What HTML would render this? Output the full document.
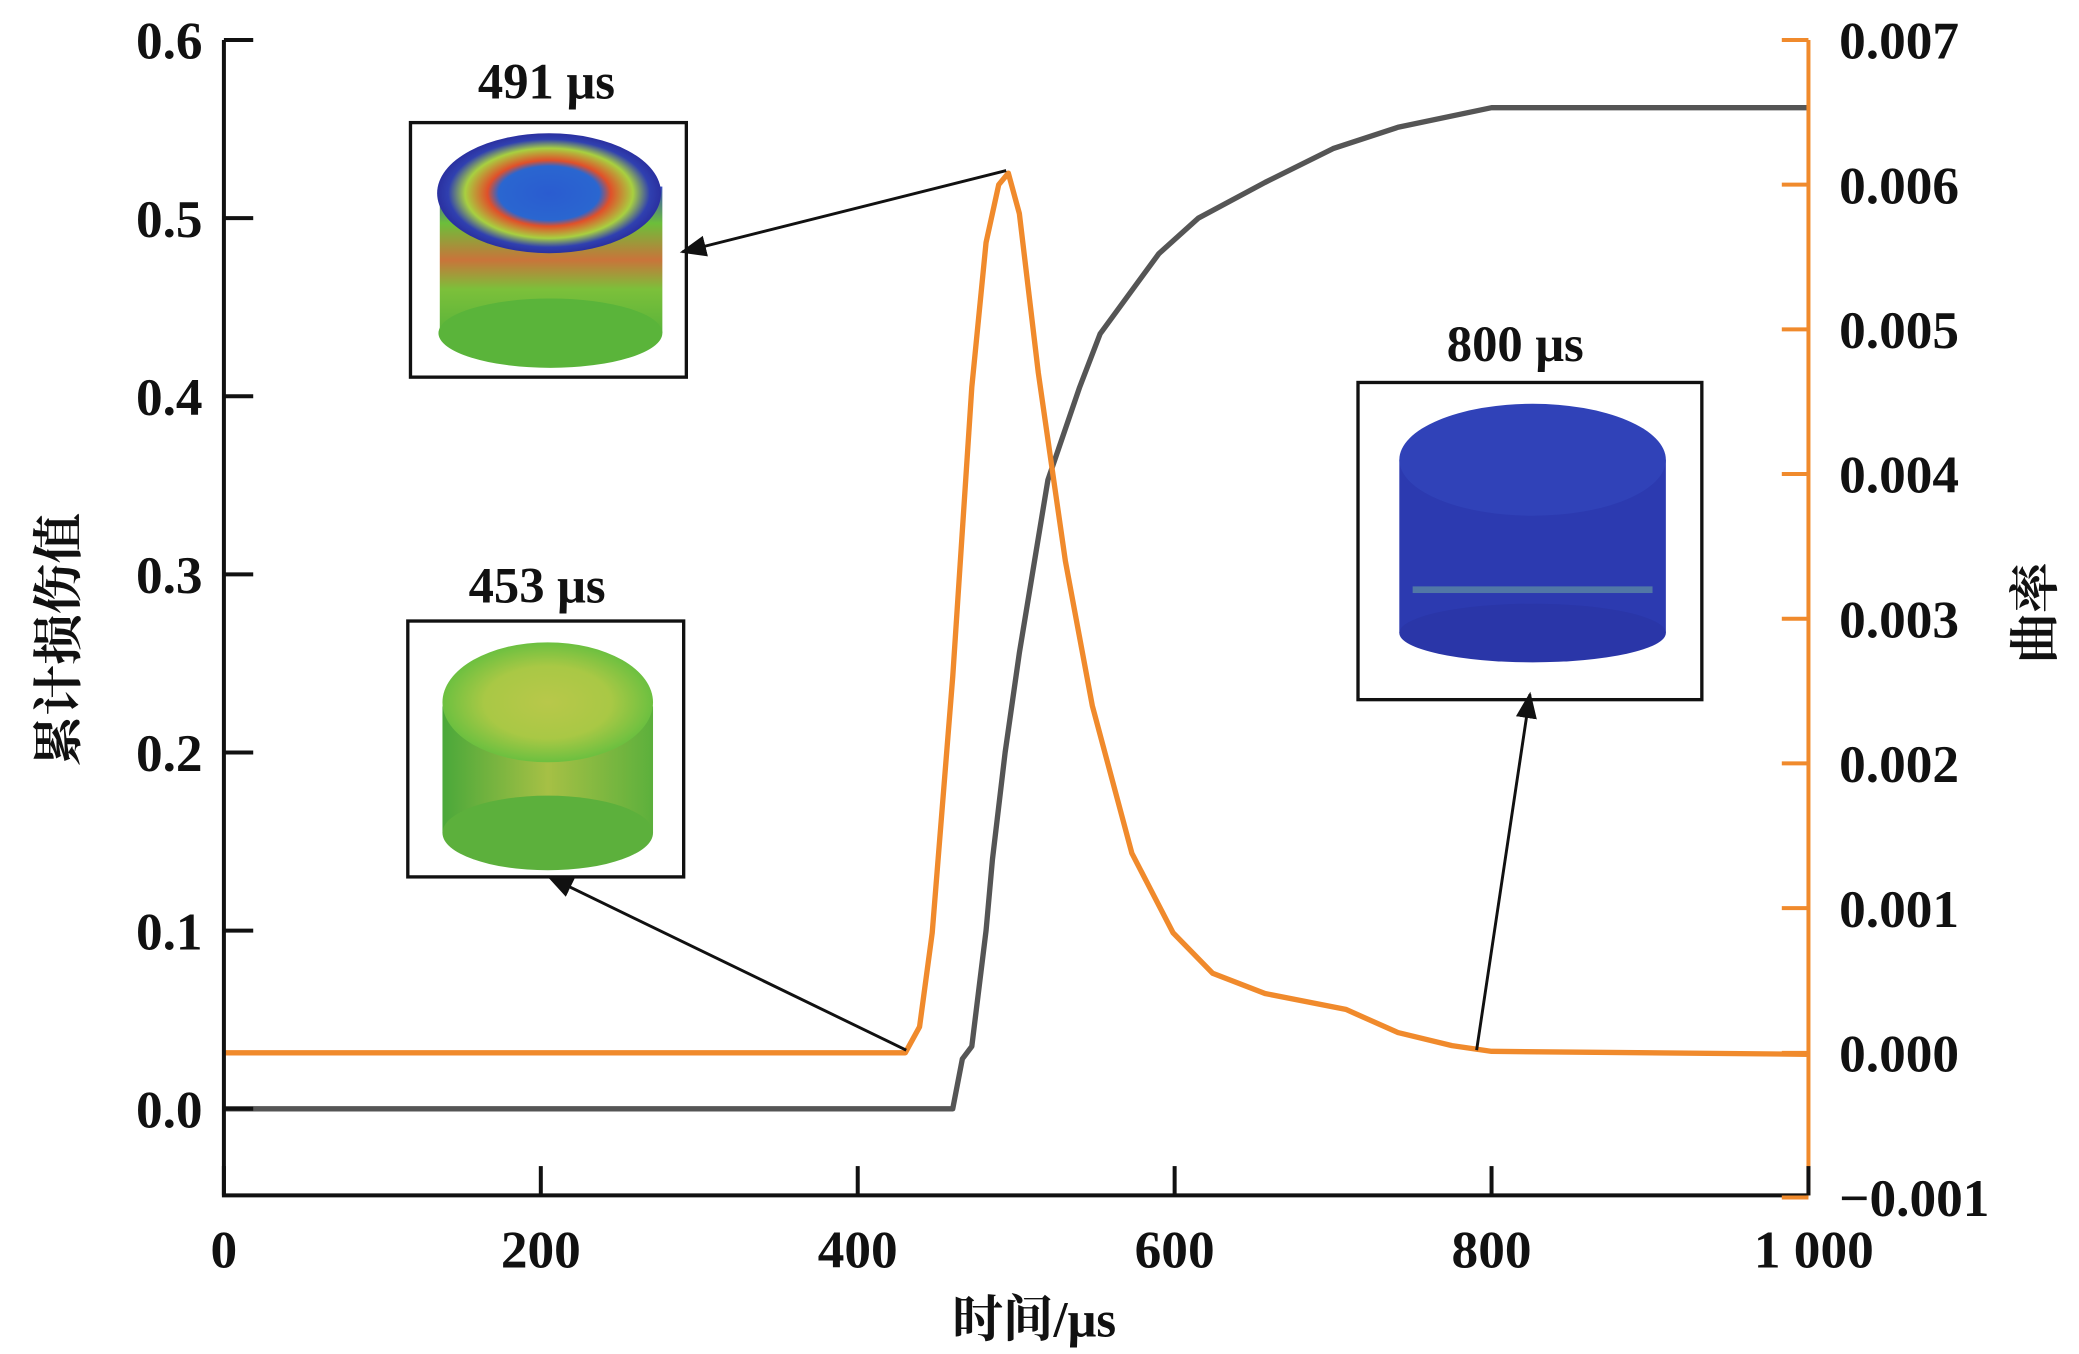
<!DOCTYPE html>
<html><head><meta charset="utf-8"><style>
html,body{margin:0;padding:0;background:#fff;}
svg{display:block;}
text{font-family:"Liberation Serif","Noto Serif CJK SC",serif;fill:#111;}
</style></head><body>
<svg id="chart" width="2079" height="1354" viewBox="0 0 1560 1016" xmlns="http://www.w3.org/2000/svg">
<defs>
<radialGradient id="g453top" cx="50%" cy="50%" r="50%"><stop offset="0" stop-color="#b8c84a"/><stop offset="0.6" stop-color="#a9c845"/><stop offset="1" stop-color="#6cc040"/></radialGradient>
<linearGradient id="g453side" x1="0" y1="0" x2="1" y2="0"><stop offset="0" stop-color="#4aa83a"/><stop offset="0.5" stop-color="#a6c045"/><stop offset="1" stop-color="#5cb03c"/></linearGradient>
<linearGradient id="g491side" x1="0" y1="0" x2="0" y2="1"><stop offset="0" stop-color="#3a4cc0"/><stop offset="0.25" stop-color="#6cbf3a"/><stop offset="0.5" stop-color="#c9743a"/><stop offset="0.7" stop-color="#7cc03a"/><stop offset="1" stop-color="#5ab43a"/></linearGradient>
<radialGradient id="g491top" cx="50%" cy="50%" r="50%"><stop offset="0" stop-color="#2a5cd0"/><stop offset="0.45" stop-color="#2a66d0"/><stop offset="0.55" stop-color="#e0502a"/><stop offset="0.75" stop-color="#a8d040"/><stop offset="0.9" stop-color="#3040b0"/><stop offset="1" stop-color="#2a30a0"/></radialGradient>
<marker id="ah" viewBox="0 0 10 10" refX="9" refY="5" markerWidth="9" markerHeight="9" orient="auto"><path d="M0,1 L10,5 L0,9 z" fill="#111"/></marker>
</defs>
<g id="plot"></g>
</svg>
<script>
const ticksX=[0,200,400,600,800,1000];
const tickLabelsX=["0","200","400","600","800","1 000"];
const ticksL=[0,0.1,0.2,0.3,0.4,0.5,0.6];
const tickLabelsL=["0.0","0.1","0.2","0.3","0.4","0.5","0.6"];
const ticksR=[-0.001,0,0.001,0.002,0.003,0.004,0.005,0.006,0.007];
const tickLabelsR=["\u22120.001","0.000","0.001","0.002","0.003","0.004","0.005","0.006","0.007"];
const damageT=[0,460,466,472,481,485,493,502,520,540,553,590,615,657,700,741,800,1000];
const damageV=[0,0,0.028,0.035,0.1,0.14,0.2,0.256,0.353,0.405,0.435,0.48,0.5,0.52,0.539,0.551,0.562,0.562];
const curvT=[0,430,439,447,460,472,481,489,495,502,514,531,548,573,599,624,657,708,741,775,800,1000];
const curvV=[0,0,0.00018,0.00083,0.0026,0.0046,0.0056,0.006,0.00608,0.0058,0.0047,0.0034,0.0024,0.00138,0.00083,0.00055,0.00041,0.0003,0.00014,0.00005,0.00001,-0.00001];

const X0=168,X1=1357,YL0=832,YL6=30,YR0=790,YR7=30,YB=897;
const sx=t=>X0+(X1-X0)*t/1000;
const syL=v=>YL0+(YL6-YL0)*v/0.6;
const syR=v=>YR0+(YR7-YR0)*v/0.007;
const NS="http://www.w3.org/2000/svg";
const g=document.getElementById('plot');
function mk(tag,attrs,txt){const e=document.createElementNS(NS,tag);for(const k in attrs)e.setAttribute(k,attrs[k]);if(txt!==undefined)e.textContent=txt;g.appendChild(e);return e;}

function box(x,y,w,h,name){const r=mk('rect',{x:x,y:y,width:w,height:h,fill:'#fff',stroke:'#111','stroke-width':2.5});}
box(308,92,207,191,'inset-491-frame');
mk('rect',{x:330,y:140,width:167,height:110,fill:'url(#g491side)'});
mk('ellipse',{cx:413,cy:250,rx:84,ry:26,fill:'#5ab43a'});
mk('ellipse',{cx:412,cy:145,rx:84,ry:45,fill:'url(#g491top)'});
box(306,466,207,192,'inset-453-frame');
mk('rect',{x:332,y:530,width:158,height:95,fill:'url(#g453side)'});
mk('ellipse',{cx:411,cy:625,rx:79,ry:28,fill:'#5cb03c'});
mk('ellipse',{cx:411,cy:527,rx:79,ry:45,fill:'url(#g453top)'});
box(1019,287,258,238,'inset-800-frame');
mk('rect',{x:1050,y:345,width:200,height:130,fill:'#2c3ab0'});
mk('ellipse',{cx:1150,cy:475,rx:100,ry:22,fill:'#2a36a8'});
mk('ellipse',{cx:1150,cy:345,rx:100,ry:42,fill:'#3042b8'});
mk('rect',{x:1060,y:440,width:180,height:5,fill:'#6aa0a0',opacity:0.6});

const l1=mk('text',{x:410,y:74,'font-size':38,'text-anchor':'middle','font-weight':'bold'},'491 \u03bcs');
const l2=mk('text',{x:403,y:452,'font-size':38,'text-anchor':'middle','font-weight':'bold'},'453 \u03bcs');
const l3=mk('text',{x:1137,y:271,'font-size':38,'text-anchor':'middle','font-weight':'bold'},'800 \u03bcs');

function pathOf(T,V,sy){return T.map((t,i)=>(i?'L':'M')+sx(t).toFixed(1)+','+sy(V[i]).toFixed(1)).join(' ');}
const dl=mk('path',{d:pathOf(damageT,damageV,syL),fill:'none',stroke:'#555','stroke-width':4,'stroke-linejoin':'round'});

const cl=mk('path',{d:pathOf(curvT,curvV,syR),fill:'none',stroke:'#f08a2c','stroke-width':4,'stroke-linejoin':'round'});


function arrow(x1,y1,x2,y2,name){const a=mk('line',{x1:x1,y1:y1,x2:x2,y2:y2,stroke:'#111','stroke-width':2.2,'marker-end':'url(#ah)'});}
arrow(755,128,512,189,'arrow-491');
arrow(680,788,412,658,'arrow-453');
arrow(1108,788,1148,521,'arrow-800');

const ax=mk('path',{d:`M${X0},${YL6} L${X0},${YB} L${X1},${YB}`,fill:'none',stroke:'#111','stroke-width':3});

const rax=mk('line',{x1:X1,y1:YR7,x2:X1,y2:YB,stroke:'#f08a2c','stroke-width':3});

ticksX.forEach((t,i)=>{mk('line',{x1:sx(t),y1:YB,x2:sx(t),y2:YB-22,stroke:'#111','stroke-width':3});
 const e=mk('text',{x:sx(t)+(i==5?4:0),y:YB+54,'font-size':40,'text-anchor':'middle','font-weight':'bold'},tickLabelsX[i]);});
ticksL.forEach((v,i)=>{mk('line',{x1:X0,y1:syL(v),x2:X0+22,y2:syL(v),stroke:'#111','stroke-width':3});
 const e=mk('text',{x:152,y:syL(v)+14,'font-size':40,'text-anchor':'end','font-weight':'bold'},tickLabelsL[i]);});
ticksR.forEach((v,i)=>{mk('line',{x1:X1,y1:syR(v),x2:X1-20,y2:syR(v),stroke:'#f08a2c','stroke-width':3});
 const e=mk('text',{x:1380,y:syR(v)+14,'font-size':40,'text-anchor':'start','font-weight':'bold'},tickLabelsR[i]);});
const xt=mk('text',{x:776,y:1003,'font-size':38,'text-anchor':'middle','font-weight':'bold'},'时间/\u03bcs');
const yt=mk('text',{x:0,y:0,'font-size':38,'text-anchor':'middle','font-weight':'bold',transform:'translate(57,480) rotate(-90)'},'累计损伤值');
const rt=mk('text',{x:0,y:0,'font-size':38,'text-anchor':'middle','font-weight':'bold',transform:'translate(1540,460) rotate(-90)'},'曲率');
</script>
</body></html>
